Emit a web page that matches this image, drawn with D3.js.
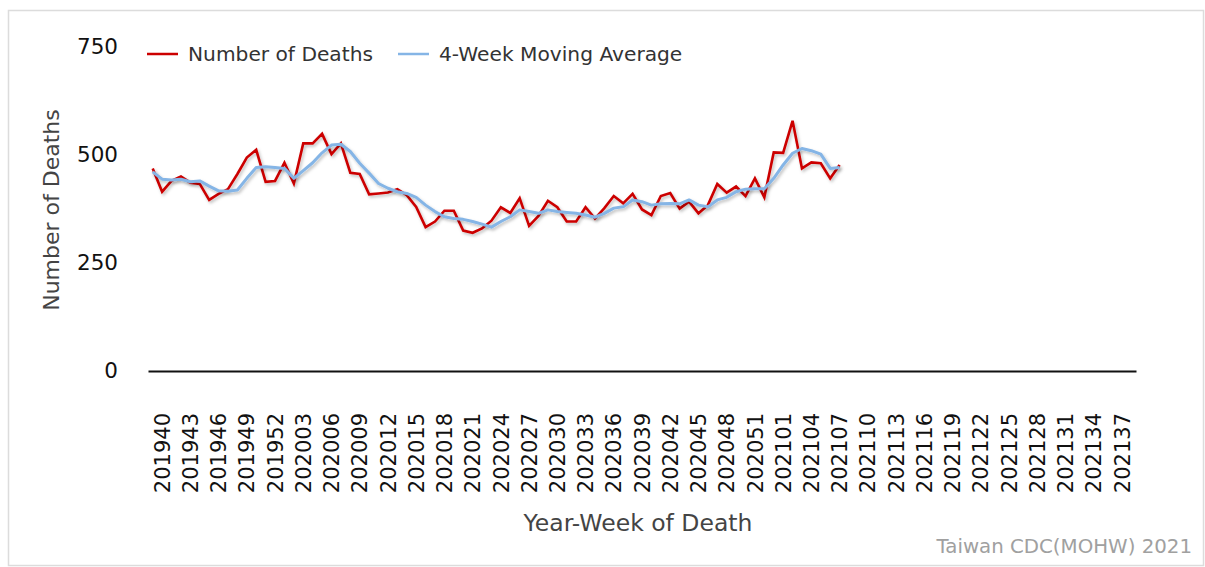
<!DOCTYPE html>
<html>
<head>
<meta charset="utf-8">
<style>
  body { margin: 0; background: #fff; }
  text { font-family: "DejaVu Sans", sans-serif; }
</style>
</head>
<body>
<div id="deathChart"></div>

<script src="https://d3js.org/d3.v7.min.js"></script>

<script>
// year-week categories on the x axis
var weeks = [
  "201940","201941","201942","201943","201944","201945","201946","201947","201948","201949","201950","201951","201952",
  "202001","202002","202003","202004","202005","202006","202007","202008","202009","202010","202011","202012","202013",
  "202014","202015","202016","202017","202018","202019","202020","202021","202022","202023","202024","202025","202026",
  "202027","202028","202029","202030","202031","202032","202033","202034","202035","202036","202037","202038","202039",
  "202040","202041","202042","202043","202044","202045","202046","202047","202048","202049","202050","202051","202052","202053",
  "202101","202102","202103","202104","202105","202106","202107","202108","202109","202110","202111","202112","202113",
  "202114","202115","202116","202117","202118","202119","202120","202121","202122","202123","202124","202125","202126",
  "202127","202128","202129","202130","202131","202132","202133","202134","202135","202136","202137","202138","202139"
];

// only every third week gets a label
var tickLabels = [
  "201940","201943","201946","201949","201952","202003","202006","202009","202012","202015","202018","202021",
  "202024","202027","202030","202033","202036","202039","202042","202045","202048","202051","202101","202104",
  "202107","202110","202113","202116","202119","202122","202125","202128","202131","202134","202137"
];

// weekly deaths, 201940 .. 202108
var deaths = [
  469,415,440,450,436,433,396,410,421,456,
  494,512,438,440,482,434,527,527,549,502,
  527,459,456,409,411,413,421,407,380,333,
  346,371,371,325,320,330,348,379,366,400,
  336,359,394,379,346,346,379,353,377,405,
  388,410,374,361,405,412,376,392,365,384,
  433,413,427,405,446,402,506,505,579,469,
  483,481,446,477
];

// 4-week moving average, same weeks
var movingAvg = [
  461,444,442,444,438,440,428,417,416,419,
  446,471,473,471,469,446,464,482,505,523,
  525,508,481,458,434,423,415,411,402,384,
  369,357,353,351,346,340,333,346,357,373,
  369,365,373,369,367,365,361,356,365,377,
  380,396,392,384,387,388,387,396,384,380,
  396,402,415,421,422,422,446,477,504,515,
  510,502,469,471
];

var yTicks = [0, 250, 500, 750];

var W = 1205, H = 567;
var plot = {left: 148, right: 1136, top: 47, bottom: 371};

var svg = d3.select("#deathChart")
  .append("svg")
    .attr("width", W)
    .attr("height", H);

// soft shadow under the lines
var defs = svg.append("defs");
var shadow = defs.append("filter")
    .attr("id", "shadow")
    .attr("x", "-5%").attr("y", "-20%")
    .attr("width", "110%").attr("height", "140%");
shadow.append("feDropShadow")
    .attr("dx", 1.5).attr("dy", 2)
    .attr("stdDeviation", 1.5)
    .attr("flood-color", "#000")
    .attr("flood-opacity", 0.25);

// outer frame
svg.append("rect")
    .attr("x", 8.5).attr("y", 10.5)
    .attr("width", W - 10).attr("height", H - 12)
    .attr("fill", "none")
    .attr("stroke", "#dcdcdc")
    .attr("stroke-width", 1.5);

var x = d3.scalePoint()
    .domain(weeks)
    .range([plot.left, plot.right])
    .padding(0.5);

var y = d3.scaleLinear()
    .domain([0, 750])
    .range([plot.bottom, plot.top]);

// y axis labels, no line
var yAxis = svg.append("g")
    .attr("transform", "translate(" + (plot.left - 30) + ",0)")
    .call(d3.axisLeft(y).tickValues(yTicks).tickSize(0).tickPadding(0));
yAxis.select(".domain").remove();
yAxis.selectAll("text")
    .attr("font-family", "DejaVu Sans")
    .attr("font-size", 21.5)
    .attr("fill", "#111");

// x axis
var xAxis = svg.append("g")
    .attr("transform", "translate(0," + plot.bottom + ")")
    .call(d3.axisBottom(x).tickValues(tickLabels).tickSize(0).tickSizeOuter(0));
xAxis.select(".domain")
    .attr("stroke", "#111")
    .attr("stroke-width", 2);
xAxis.selectAll("text")
    .attr("font-family", "DejaVu Sans")
    .attr("font-size", 21)
    .attr("fill", "#111")
    .attr("text-anchor", "end")
    .attr("transform", "translate(9,42) rotate(-90)")
    .attr("x", 0)
    .attr("y", 0)
    .attr("dy", "0.36em");

// lines
var line = d3.line()
    .x(function(d, i) { return x(weeks[i]); })
    .y(function(d) { return y(d); });

svg.append("path")
    .datum(deaths)
    .attr("fill", "none")
    .attr("stroke", "#cc0000")
    .attr("stroke-width", 2.6)
    .attr("stroke-linejoin", "miter")
    .attr("filter", "url(#shadow)")
    .attr("d", line);

svg.append("path")
    .datum(movingAvg)
    .attr("fill", "none")
    .attr("stroke", "#85b5e6")
    .attr("stroke-width", 3)
    .attr("stroke-linejoin", "round")
    .attr("filter", "url(#shadow)")
    .attr("d", line);

// legend
var legend = [
  {name: "Number of Deaths", color: "#cc0000", x: 147},
  {name: "4-Week Moving Average", color: "#85b5e6", x: 398}
];
var lg = svg.append("g").selectAll("g")
    .data(legend)
    .enter().append("g")
    .attr("transform", function(d) { return "translate(" + d.x + ",54)"; });
lg.append("line")
    .attr("x1", 0).attr("x2", 31)
    .attr("stroke", function(d) { return d.color; })
    .attr("stroke-width", 2.5);
lg.append("text")
    .attr("x", 41)
    .attr("dy", "0.35em")
    .attr("font-size", 20.2)
    .attr("fill", "#333")
    .text(function(d) { return d.name; });

// axis titles
svg.append("text")
    .attr("transform", "translate(51,210) rotate(-90)")
    .attr("text-anchor", "middle")
    .attr("dy", "0.35em")
    .attr("font-size", 22)
    .attr("fill", "#444")
    .text("Number of Deaths");

svg.append("text")
    .attr("x", 638)
    .attr("y", 523)
    .attr("text-anchor", "middle")
    .attr("dy", "0.35em")
    .attr("font-size", 23.5)
    .attr("fill", "#444")
    .text("Year-Week of Death");

// source note
svg.append("text")
    .attr("x", 1192)
    .attr("y", 546)
    .attr("text-anchor", "end")
    .attr("dy", "0.35em")
    .attr("font-size", 19.8)
    .attr("fill", "#a0a0a0")
    .text("Taiwan CDC(MOHW) 2021");
</script>
</body>
</html>
